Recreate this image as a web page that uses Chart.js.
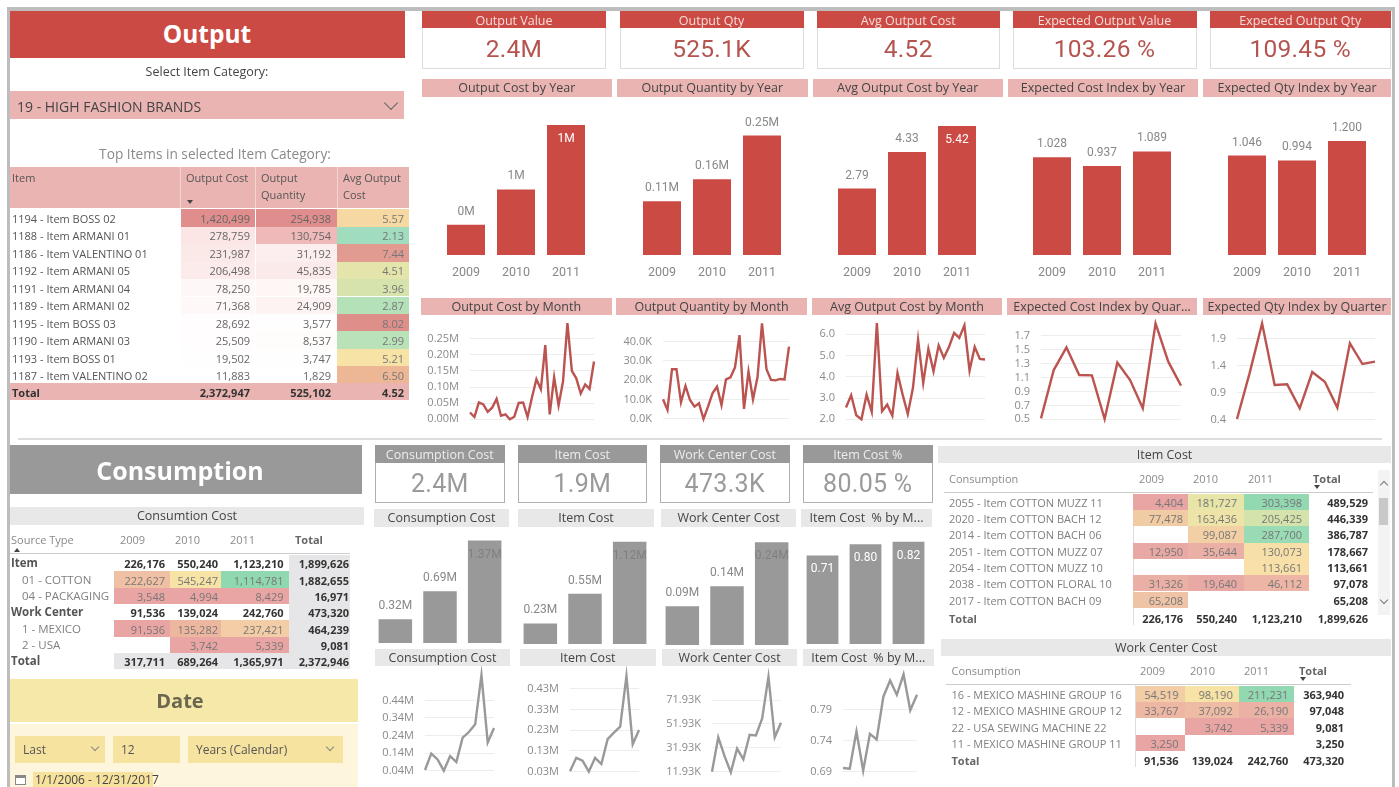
<!DOCTYPE html>
<html>
<head>
<meta charset="utf-8">
<title>Output and Consumption dashboard</title>
<script src="https://cdn.jsdelivr.net/npm/chart.js@4"></script>
<style>
html, body { margin: 0; padding: 0; background: #fff; overflow: hidden; }
#page { position: relative; width: 1399px; height: 787px; overflow: hidden; font-family: "Open Sans", sans-serif; filter: blur(0.4px); }
.box { position: absolute; box-sizing: border-box; }
.txt { position: absolute; white-space: pre; line-height: 1; }
canvas { position: absolute; }
</style>
</head>
<body>
<div id="page"></div>
<script>
const years = ['2009', '2010', '2011'];

// output bars
const outputCostYear = [317711, 689264, 1365971];
const outputCostYearLabels = ['0M', '1M', '1M'];
const outputQtyYear = [113000, 159000, 251000];
const outputQtyYearLabels = ['0.11M', '0.16M', '0.25M'];
const avgCostYear = [2.79, 4.33, 5.42];
const avgCostYearLabels = ['2.79', '4.33', '5.42'];
const expCostYear = [1.028, 0.937, 1.089];
const expCostYearLabels = ['1.028', '0.937', '1.089'];
const expQtyYear = [1.046, 0.994, 1.2];
const expQtyYearLabels = ['1.046', '0.994', '1.200'];

// output lines
const outputCostMonth = [.021, .007, .052, .046, .023, .036, .063, .011, .015, 0, .008, .051, .052, .007, .068, .124, .093, .230, .015, .130, .043, .117, .298, .150, .127, .080, .108, .094, .179];
const outputQtyMonth = [10.2, 4.7, 25.7, 25.7, 8.6, 17.1, 9.8, 6.4, 8.1, 0, 6.4, 13.3, 16.7, 7.2, 20.5, 21.6, 26.7, 43.4, 5.2, 24.5, 10.2, 21.6, 49.5, 25.7, 20.2, 20, 20.7, 20.5, 37.4];
const avgCostMonth = [2.56, 3.13, 2.19, 2.0, 3.16, 2.35, 6.53, 2.38, 2.69, 2.17, 4.18, 3.16, 2.25, 3.47, 5.75, 3.71, 5.31, 4.26, 5.48, 4.89, 5.40, 6.06, 5.83, 6.42, 4.29, 5.40, 4.84, 4.81];
const expCostQuarter = [.514, 1.207, 1.532, 1.136, 1.131, .505, 1.313, 1.064, .658, 1.877, 1.327, .983];
const expQtyQuarter = [.418, 1.257, 2.176, 1.043, 1.055, .614, 1.282, 1.104, .627, 1.808, 1.429, 1.472];

const outputCostTicks = [0, .05, .10, .15, .20, .25];
const outputCostTickLabels = ['0.00M', '0.05M', '0.10M', '0.15M', '0.20M', '0.25M'];
const outputQtyTicks = [0, 10, 20, 30, 40];
const outputQtyTickLabels = ['0.0K', '10.0K', '20.0K', '30.0K', '40.0K'];
const avgCostTicks = [2, 3, 4, 5, 6];
const avgCostTickLabels = ['2.0', '3.0', '4.0', '5.0', '6.0'];
const expCostTicks = [.5, .7, .9, 1.1, 1.3, 1.5, 1.7];
const expCostTickLabels = ['0.5', '0.7', '0.9', '1.1', '1.3', '1.5', '1.7'];
const expQtyTicks = [.4, .9, 1.4, 1.9];
const expQtyTickLabels = ['0.4', '0.9', '1.4', '1.9'];

// consumption bars
const consCostYear = [317711, 689264, 1365971];
const consCostYearLabels = ['0.32M', '0.69M', '1.37M'];
const itemCostYear = [226176, 550240, 1123210];
const itemCostYearLabels = ['0.23M', '0.55M', '1.12M'];
const wcCostYear = [91536, 139024, 242760];
const wcCostYearLabels = ['0.09M', '0.14M', '0.24M'];
const itemPctYear = [.71, .80, .82];
const itemPctYearLabels = ['0.71', '0.80', '0.82'];

// consumption lines
const consCostMonth = [.044, .137, .104, .04, .123, .089, .228, .26, .304, .584, .201, .283];
const itemCostMonth = [.032, .097, .083, .03, .097, .067, .187, .218, .247, .491, .162, .231];
const wcCostMonth = [11.9, 40.7, 25.0, 11.4, 31.2, 22.3, 42.9, 42.3, 56.6, 91.5, 40.7, 53.0];
const itemPctMonth = [.696, .695, .755, .692, .751, .742, .811, .837, .814, .847, .789, .814];

const consCostTicks = [.04, .14, .24, .34, .44];
const consCostTickLabels = ['0.04M', '0.14M', '0.24M', '0.34M', '0.44M'];
const itemCostTicks = [.03, .13, .23, .33, .43];
const itemCostTickLabels = ['0.03M', '0.13M', '0.23M', '0.33M', '0.43M'];
const wcCostTicks = [11.93, 31.93, 51.93, 71.93];
const wcCostTickLabels = ['11.93K', '31.93K', '51.93K', '71.93K'];
const itemPctTicks = [.69, .74, .79];
const itemPctTickLabels = ['0.69', '0.74', '0.79'];

// tables
const topItems = ['1194 - Item BOSS 02', '1188 - Item ARMANI 01', '1186 - Item VALENTINO 01', '1192 - Item ARMANI 05', '1191 - Item ARMANI 04', '1189 - Item ARMANI 02', '1195 - Item BOSS 03', '1190 - Item ARMANI 03', '1193 - Item BOSS 01', '1187 - Item VALENTINO 02'];
const topCost = ['1,420,499', '278,759', '231,987', '206,498', '78,250', '71,368', '28,692', '25,509', '19,502', '11,883'];
const topCostFill = ['#E08E8D', '#FBE6E5', '#FBE9E8', '#FBEBEA', '#FEF7F7', '#FEF8F8', '#FFFDFD', '#FFFDFD', '#FFFEFE', '#FFFFFF'];
const topQty = ['254,938', '130,754', '31,192', '45,835', '19,785', '24,909', '3,577', '8,537', '3,747', '1,829'];
const topQtyFill = ['#E08E8D', '#EEB9B8', '#FCEEEE', '#FBEAEA', '#FEF7F6', '#FDF3F2', '#FFFEFE', '#FFFCFC', '#FFFEFE', '#FFFFFF'];
const topAvg = ['5.57', '2.13', '7.44', '4.51', '3.96', '2.87', '8.02', '2.99', '5.21', '6.50'];
const topAvgFill = ['#F6D9A2', '#9FDDBE', '#E29B91', '#E4E5AA', '#D6E3AD', '#B4E1B8', '#DE8F89', '#B9E2B8', '#F8E3A6', '#EDB796'];
const topTotals = ['2,372,947', '525,102', '4.52'];

const sourceRows = ['Item', '01 - COTTON', '04 - PACKAGING', 'Work Center', '1 - MEXICO', '2 - USA', 'Total'];
const sourceBold = [true, false, false, true, false, false, true];
const source2009 = ['226,176', '222,627', '3,548', '91,536', '91,536', '', '317,711'];
const source2010 = ['550,240', '545,247', '4,994', '139,024', '135,282', '3,742', '689,264'];
const source2011 = ['1,123,210', '1,114,781', '8,429', '242,760', '237,421', '5,339', '1,365,971'];
const sourceTotal = ['1,899,626', '1,882,655', '16,971', '473,320', '464,239', '9,081', '2,372,946'];
const source2009Fill = ['', '#EFC0A4', '#E8A5A3', '', '#E8A5A3', '', '#E6E6E8'];
const source2010Fill = ['', '#F8E3A6', '#E8A5A3', '', '#EDB79F', '#E8A5A3', '#E6E6E8'];
const source2011Fill = ['', '#8FD8B0', '#E8A5A3', '', '#F3CDA5', '#E8A5A3', '#E6E6E8'];

const itemRows = ['2055 - Item COTTON MUZZ 11', '2020 - Item COTTON BACH 12', '2014 - Item COTTON BACH 06', '2051 - Item COTTON MUZZ 07', '2054 - Item COTTON MUZZ 10', '2038 - Item COTTON FLORAL 10', '2017 - Item COTTON BACH 09'];
const item2009 = ['4,404', '77,478', '', '12,950', '', '31,326', '65,208'];
const item2010 = ['181,727', '163,436', '99,087', '35,644', '', '19,640', ''];
const item2011 = ['303,398', '205,425', '287,700', '130,073', '113,661', '46,112', ''];
const itemTotal = ['489,529', '446,339', '386,787', '178,667', '113,661', '97,078', '65,208'];
const item2009Fill = ['#E8A5A3', '#F1CBA4', '', '#E8A9A5', '', '#EAAFA5', '#EFC3A5'];
const item2010Fill = ['#E7E5A8', '#EFE4A7', '#F3CFA6', '#EAAFA5', '', '#E8A9A5', ''];
const item2011Fill = ['#92D9B2', '#D4E2AB', '#99DBB4', '#F7E0A7', '#F8E0A8', '#ECB5A5', ''];
const itemFooter = ['226,176', '550,240', '1,123,210', '1,899,626'];

const wcRows = ['16 - MEXICO MASHINE GROUP 16', '12 - MEXICO MASHINE GROUP 12', '22 - USA SEWING MACHINE 22', '11 - MEXICO MASHINE GROUP 11'];
const wc2009 = ['54,519', '33,767', '', '3,250'];
const wc2010 = ['98,190', '37,092', '3,742', ''];
const wc2011 = ['211,231', '26,190', '5,339', ''];
const wcTotal = ['363,940', '97,048', '9,081', '3,250'];
const wc2009Fill = ['#F2CDA5', '#EDB7A4', '', '#E8A5A3'];
const wc2010Fill = ['#F8E3A6', '#EEBCA4', '#E8A5A3', ''];
const wc2011Fill = ['#92D9B2', '#EBB1A5', '#E8A5A3', ''];
const wcFooter = ['91,536', '139,024', '242,760', '473,320'];

const RED = '#CC4A44';
const RED_LINE = '#BB5450';
const PINK = '#E9B4B2';
const GREY = '#999999';
const GREY_BAND = '#E8E8E8';

const page = document.getElementById('page');

function box(x, y, w, h, fill, border) {
    const d = document.createElement('div');
    d.className = 'box';
    d.style.cssText = `left:${x}px;top:${y}px;width:${w}px;height:${h}px;` +
        (fill ? `background:${fill};` : '') + (border ? `border:${border};` : '');
    page.appendChild(d);
    return d;
}

// anchor: l, c or r at x, vertically centred on y
function text(str, x, y, size, color, anchor, weight, family) {
    const d = document.createElement('div');
    d.className = 'txt';
    const tx = anchor === 'c' ? '-50%' : anchor === 'r' ? '-100%' : '0';
    d.style.cssText = `left:${x}px;top:${y}px;font-size:${size}px;color:${color};` +
        `transform:translate(${tx},-50%);font-weight:${weight || 400};` +
        (family ? `font-family:${family};` : '');
    d.textContent = str;
    page.appendChild(d);
    return d;
}

function band(label, x0, x1, y0, y1, fill, color, size) {
    box(x0, y0, x1 - x0, y1 - y0, fill);
    text(label, (x0 + x1) / 2, (y0 + y1) / 2, size || 12.5, color || '#444', 'c');
}

function card(title, value, x0, x1, y0, y1, y2, head, border, valueColor, titleColor, valueSize) {
    box(x0, y1 - 1, x1 - x0, y2 - y1 + 1, '#fff', border);
    box(x0, y0, x1 - x0, y1 - y0, head);
    text(title, (x0 + x1) / 2, (y0 + y1) / 2 + 1, 12.5, titleColor, 'c');
    text(value, (x0 + x1) / 2, (y1 + y2) / 2, valueSize, valueColor, 'c', 400, 'Roboto');
    page.lastChild.style.letterSpacing = '0.3px';
}

function chevron(x, y, size, color, up) {
    const d = box(x - size / 2, y - size * 0.75, size, size, null);
    d.style.borderRight = `1px solid ${color}`;
    d.style.borderBottom = `1px solid ${color}`;
    d.style.transform = up ? 'rotate(225deg)' : 'rotate(45deg)';
}

function sortArrow(x, y, up) {
    const d = box(x - 3, y - 2, 0, 0, null);
    d.style.borderLeft = '3px solid transparent';
    d.style.borderRight = '3px solid transparent';
    d.style[up ? 'borderBottom' : 'borderTop'] = '4px solid #444';
}

// bars: custom data labels, the value sits inside once the bar is tall enough
const barLabels = {
    id: 'barLabels',
    afterDatasetsDraw(chart, args, opts) {
        const ctx = chart.ctx;
        const meta = chart.getDatasetMeta(0);
        ctx.save();
        ctx.textAlign = 'center';
        ctx.textBaseline = 'middle';
        ctx.font = opts.font;
        meta.data.forEach((bar, i) => {
            const inside = chart.data.datasets[0].data[i] >= opts.insideFrom;
            ctx.fillStyle = inside ? opts.insideColor : opts.color;
            ctx.fillText(opts.labels[i], bar.x, inside ? bar.y + 14 : bar.y - 13);
        });
        ctx.restore();
    }
};

function makeCanvas(x, y, w, h) {
    const c = document.createElement('canvas');
    c.style.left = Math.round(x) + 'px';
    c.style.top = Math.round(y) + 'px';
    c.style.width = Math.round(w) + 'px';
    c.style.height = Math.round(h) + 'px';
    c.width = Math.round(w);
    c.height = Math.round(h);
    page.appendChild(c);
    return c;
}

function barChart(x, y, w, h, values, labels, yMax, cfg) {
    new Chart(makeCanvas(x, y, w, h), {
        type: 'bar',
        data: {
            labels: years,
            datasets: [{
                data: values,
                backgroundColor: cfg.color,
                barPercentage: cfg.bar,
                categoryPercentage: 1
            }]
        },
        plugins: [barLabels],
        options: {
            responsive: false,
            animation: false,
            layout: { padding: 0 },
            plugins: {
                legend: { display: false },
                tooltip: { enabled: false },
                barLabels: {
                    labels: labels,
                    insideFrom: cfg.insideFrom,
                    insideColor: cfg.insideColor,
                    color: '#888',
                    font: cfg.font
                }
            },
            scales: {
                y: { display: false, min: 0, max: yMax },
                x: {
                    display: cfg.showYears,
                    grid: { display: false, drawTicks: false },
                    border: { display: false },
                    afterFit: s => { s.height = cfg.showYears ? 30 : 0; },
                    ticks: { color: '#888', padding: 10, font: { family: 'Roboto', size: 12.5 } }
                }
            }
        }
    });
}

function lineChart(plotLeft, plotRight, top, bottom, values, ticks, tickLabels, yMin, yMax, color) {
    const axisWidth = 52;
    // the first and last tick label reserve 6px above and below the plot, so the canvas is taller by that
    new Chart(makeCanvas(plotLeft - axisWidth, top - 6, plotRight - plotLeft + axisWidth + 3, bottom - top + 12), {
        type: 'line',
        data: {
            labels: values.map((v, i) => i),
            datasets: [{
                data: values,
                borderColor: color,
                borderWidth: 2.4,
                pointRadius: 0,
                tension: 0,
                clip: 4
            }]
        },
        options: {
            responsive: false,
            animation: false,
            layout: { padding: { top: 0, bottom: 0, left: 0, right: 3 } },
            plugins: { legend: { display: false }, tooltip: { enabled: false } },
            scales: {
                x: { display: false, offset: false },
                y: {
                    min: yMin,
                    max: yMax,
                    afterFit: s => { s.width = axisWidth; },
                    afterBuildTicks: s => { s.ticks = ticks.map(v => ({ value: v })); },
                    border: { display: false },
                    grid: { color: '#EDEDED', tickColor: 'transparent', tickLength: 11, lineWidth: 1 },
                    ticks: {
                        autoSkip: false,
                        padding: 0,
                        color: '#8A8A8A',
                        font: { family: 'Open Sans', size: 11, lineHeight: 12 / 11 },
                        callback: (v, i) => tickLabels[i]
                    }
                }
            }
        }
    });
}

// generic right aligned table body
function cell(label, right, left, y, h, fill, color, size, weight, family) {
    if (fill) box(left, y - h / 2, right.edge - left, h, fill);
    if (label) text(label, right.text, y, size, color, 'r', weight, family);
}

function drawFrame() {
    box(7, 7, 1386, 4, '#BDBDBD');
    box(7, 7, 3, 780, '#BDBDBD');
    box(1392, 7, 3, 780, '#BDBDBD');
    box(18, 438, 1364, 2, '#DDDDDD');
}

function drawOutputLeft() {
    box(10, 11, 395, 47, RED);
    text('Output', 207, 34, 24.5, '#fff', 'c', 700);
    text('Select Item Category:', 207, 72, 12.5, '#444', 'c');
    box(10, 91, 394, 28, PINK);
    text('19 - HIGH FASHION BRANDS', 17, 107, 14, '#444', 'l');
    chevron(391, 105, 10, '#666');
    text('Top Items in selected Item Category:', 215, 154, 13.7, '#8A8A8A', 'c');

    box(10, 167, 399, 41, PINK);
    box(180, 167, 1, 41, '#F2D4D3');
    box(255, 167, 1, 41, '#F2D4D3');
    box(337, 167, 1, 41, '#F2D4D3');
    text('Item', 12, 177, 11, '#555', 'l');
    text('Output Cost', 186, 177, 11, '#555', 'l');
    text('Output', 261, 177, 11, '#555', 'l');
    text('Quantity', 261, 194, 11, '#555', 'l');
    text('Avg Output', 343, 177, 11, '#555', 'l');
    text('Cost', 343, 194, 11, '#555', 'l');
    sortArrow(190, 202, false);

    const costCol = { edge: 255, text: 250 };
    const qtyCol = { edge: 337, text: 331 };
    const avgCol = { edge: 409, text: 404 };
    topItems.forEach((name, i) => {
        const y = 218 + i * 17.45;
        text(name, 12, y, 11, '#555', 'l');
        cell(topCost[i], costCol, 181, y, 17.4, topCostFill[i], '#666', 11);
        cell(topQty[i], qtyCol, 256, y, 17.4, topQtyFill[i], '#666', 11);
        cell(topAvg[i], avgCol, 337, y, 17.4, topAvgFill[i], '#777', 11);
    });
    box(10, 383, 399, 16.5, PINK);
    text('Total', 12, 392, 11, '#333', 'l', 700);
    text(topTotals[0], 250, 392, 11, '#333', 'r', 700);
    text(topTotals[1], 331, 392, 11, '#333', 'r', 700);
    text(topTotals[2], 404, 392, 11, '#333', 'r', 700);
}

function drawOutputCards() {
    const border = '1.5px solid #DCDCDC';
    const cardEdges = [[422, 606], [619.5, 803.5], [816.5, 1000], [1012.5, 1196.5], [1209.5, 1391]];
    const titles = ['Output Value', 'Output Qty', 'Avg Output Cost', 'Expected Output Value', 'Expected Output Qty'];
    const values = ['2.4M', '525.1K', '4.52', '103.26 %', '109.45 %'];
    cardEdges.forEach((e, i) => card(titles[i], values[i], e[0], e[1], 11, 28, 69, RED, border, '#B5544F', '#F6DDDB', 24.5));

    const yearTitles = ['Output Cost by Year', 'Output Quantity by Year', 'Avg Output Cost by Year', 'Expected Cost Index by Year', 'Expected Qty Index by Year'];
    const yearEdges = [[421.5, 612], [617, 807.5], [812.5, 1003], [1008, 1198], [1203, 1391]];
    yearEdges.forEach((e, i) => band(yearTitles[i], e[0], e[1], 79, 97, PINK));

    const monthTitles = ['Output Cost by Month', 'Output Quantity by Month', 'Avg Output Cost by Month', 'Expected Cost Index by Quar...', 'Expected Qty Index by Quarter'];
    const monthEdges = [[421, 611.5], [616, 807], [812, 1002], [1007, 1197], [1203, 1391]];
    monthEdges.forEach((e, i) => band(monthTitles[i], e[0], e[1], 298, 315, PINK));
}

function drawOutputCharts() {
    const cfg = { color: RED, bar: 0.76, insideColor: '#fff', showYears: true, font: '12px Roboto' };
    barChart(441, 100, 150, 184.5, outputCostYear, outputCostYearLabels, 1629000, { ...cfg, insideFrom: 1300000 });
    barChart(636.7, 100, 150, 184.5, outputQtyYear, outputQtyYearLabels, 325600, { ...cfg, insideFrom: 1e9 });
    barChart(831.7, 100, 150, 184.5, avgCostYear, avgCostYearLabels, 6.51, { ...cfg, insideFrom: 5 });
    barChart(1027.3, 100, 150, 184.5, expCostYear, expCostYearLabels, 1.63, { ...cfg, insideFrom: 1e9 });
    barChart(1222, 100, 150, 184.5, expQtyYear, expQtyYearLabels, 1.63, { ...cfg, insideFrom: 1e9 });

    lineChart(470, 594, 320, 424, outputCostMonth, outputCostTicks, outputCostTickLabels, -.0146, .3077, RED_LINE);
    lineChart(663, 789, 320, 424, outputQtyMonth, outputQtyTicks, outputQtyTickLabels, -2.59, 51.2, RED_LINE);
    lineChart(846, 985, 320, 424, avgCostMonth, avgCostTicks, avgCostTickLabels, 1.78, 6.67, RED_LINE);
    lineChart(1041, 1181, 320, 424, expCostQuarter, expCostTicks, expCostTickLabels, .433, 1.925, RED_LINE);
    lineChart(1237, 1375, 320, 424, expQtyQuarter, expQtyTicks, expQtyTickLabels, .326, 2.238, RED_LINE);
}

function drawConsumptionLeft() {
    box(10, 445, 352, 49, GREY);
    text('Consumption', 180, 470, 25, '#fff', 'c', 700);
    band('Consumtion Cost', 10, 364, 507, 525, GREY_BAND, '#444', 12.5);

    text('Source Type', 11, 539, 11, '#8A8A8A', 'l');
    text('2009', 120, 539, 11, '#8A8A8A', 'l');
    text('2010', 175, 539, 11, '#8A8A8A', 'l');
    text('2011', 230, 539, 11, '#8A8A8A', 'l');
    text('Total', 295, 539, 11, '#666', 'l', 700);
    sortArrow(17, 550, true);
    box(10, 553, 340, 1, '#CCCCCC');

    const cols = [
        { edge: 170, text: 165, left: 113.5, v: source2009, fill: source2009Fill },
        { edge: 221, text: 218, left: 170, v: source2010, fill: source2010Fill },
        { edge: 289, text: 283.5, left: 221, v: source2011, fill: source2011Fill }
    ];
    sourceRows.forEach((name, i) => {
        const y = 563.3 + i * 16.33;
        const bold = sourceBold[i];
        const indent = bold ? 11 : 22;
        text(name, indent, y, 11.5, bold ? '#555' : '#808080', 'l', bold ? 700 : 400);
        cols.forEach(c => {
            cell(c.v[i], c, c.left, y, 16.3, c.fill[i], bold ? '#333' : '#777', 11, bold ? 700 : 400);
        });
        box(289, y - 8.15, 61, 16.3, '#E6E6E8');
        text(sourceTotal[i], 349, y, 11, '#333', 'r', 700);
    });

    box(10, 679, 348, 43, '#F6E8A8');
    text('Date', 180, 701, 20, '#6B6650', 'c', 700);
    box(10, 724, 348, 63, '#FDF6DC');
    box(15, 736, 90, 27, '#F6E3A0');
    text('Last', 23, 750, 12, '#555', 'l');
    chevron(95, 748, 6, '#888');
    box(113, 736, 67, 27, '#F6E3A0');
    text('12', 121, 750, 12, '#555', 'l');
    box(188, 736, 155, 27, '#F6E3A0');
    text('Years (Calendar)', 196, 750, 12, '#555', 'l');
    chevron(330, 748, 6, '#888');
    const cal = box(15, 775, 11, 10, '#fff', '1px solid #888');
    cal.style.borderTopWidth = '3px';
    box(33, 772, 120, 15, '#F6E29C');
    text('1/1/2006 - 12/31/2017', 35, 780, 12, '#444', 'l');
}

function drawConsumptionCards() {
    const border = '1.5px solid #B0B0B0';
    const cardEdges = [[375, 504.5], [517.5, 647], [660, 789.5], [803, 932.5]];
    const titles = ['Consumption Cost', 'Item Cost', 'Work Center Cost', 'Item Cost %'];
    const values = ['2.4M', '1.9M', '473.3K', '80.05 %'];
    cardEdges.forEach((e, i) => card(titles[i], values[i], e[0], e[1], 445, 463, 503, GREY, border, '#9A9A9A', '#EDEDED', 25));

    const barTitles = ['Consumption Cost', 'Item Cost', 'Work Center Cost', 'Item Cost  % by M...'];
    const barEdges = [[374, 509], [518, 654], [661, 796], [801, 932]];
    barEdges.forEach((e, i) => band(barTitles[i], e[0], e[1], 509, 526.5, GREY_BAND, '#444', 12.5));
    const lineEdges = [[375, 510], [520, 655.5], [662, 797], [802.5, 934]];
    lineEdges.forEach((e, i) => band(barTitles[i], e[0], e[1], 649, 666, GREY_BAND, '#444', 12.5));
}

function drawConsumptionCharts() {
    const cfg = { color: '#999999', showYears: false, font: '12px Roboto' };
    barChart(372.8, 523, 133.5, 120.3, consCostYear, consCostYearLabels, 1600000, { ...cfg, bar: 0.75, insideFrom: 1300000, insideColor: '#808080' });
    barChart(517.9, 523, 133.5, 121, itemCostYear, itemCostYearLabels, 1328000, { ...cfg, bar: 0.75, insideFrom: 1000000, insideColor: '#808080' });
    barChart(660.1, 523, 133.5, 121.7, wcCostYear, wcCostYearLabels, 288500, { ...cfg, bar: 0.75, insideFrom: 200000, insideColor: '#808080' });
    barChart(801.4, 523, 129, 121, itemPctYear, itemPctYearLabels, .97, { ...cfg, bar: 0.74, insideFrom: 0, insideColor: '#fff' });

    lineChart(425, 494, 670, 778, consCostMonth, consCostTicks, consCostTickLabels, -.0015, .613, GREY);
    lineChart(570, 639, 670, 778, itemCostMonth, itemCostTicks, itemCostTickLabels, -.0004, .52, GREY);
    lineChart(712, 781, 670, 778, wcCostMonth, wcCostTicks, wcCostTickLabels, 6.65, 97.1, GREY);
    lineChart(843, 917, 670, 778, itemPctMonth, itemPctTicks, itemPctTickLabels, .680, .854, GREY);
}

function drawItemTable() {
    band('Item Cost', 938, 1391, 446, 463, GREY_BAND, '#444', 12.5);
    text('Consumption', 949, 478, 11, '#8A8A8A', 'l');
    text('2009', 1139, 478, 11, '#8A8A8A', 'l');
    text('2010', 1193, 478, 11, '#8A8A8A', 'l');
    text('2011', 1248, 478, 11, '#8A8A8A', 'l');
    text('Total', 1313, 478, 11, '#666', 'l', 700);
    sortArrow(1317, 487, false);
    box(944, 492, 429, 1, '#CCCCCC');
    box(1132.5, 492, 1, 133, '#DDDDDD');

    const cols = [
        { edge: 1188.3, text: 1183, left: 1133, v: item2009, fill: item2009Fill },
        { edge: 1243.7, text: 1237, left: 1188.3, v: item2010, fill: item2010Fill },
        { edge: 1308.7, text: 1302, left: 1243.7, v: item2011, fill: item2011Fill }
    ];
    itemRows.forEach((name, i) => {
        const y = 501.7 + i * 16.33;
        text(name, 949, y, 11, '#808080', 'l');
        cols.forEach(c => cell(c.v[i], c, c.left, y, 16.3, c.fill[i], '#777', 11));
        text(itemTotal[i], 1368, y, 11, '#333', 'r', 700);
    });
    const foot = [1183, 1237, 1302, 1368];
    text('Total', 949, 618.3, 11, '#666', 'l', 700);
    itemFooter.forEach((v, i) => text(v, foot[i], 618.3, 11, '#333', 'r', 700));

    box(1378, 470, 12, 145, '#F3F3F3');
    box(1379, 498, 9, 27, '#C8C8C8');
    chevron(1383.5, 486, 6, '#777', true);
    chevron(1383.5, 601, 6, '#777');
}

function drawWcTable() {
    band('Work Center Cost', 941, 1391, 639, 656, GREY_BAND, '#444', 12.5);
    text('Consumption', 951.5, 670, 11, '#8A8A8A', 'l');
    text('2009', 1140, 670, 11, '#8A8A8A', 'l');
    text('2010', 1190, 670, 11, '#8A8A8A', 'l');
    text('2011', 1244, 670, 11, '#8A8A8A', 'l');
    text('Total', 1299, 670, 11, '#666', 'l', 700);
    sortArrow(1303, 679, false);
    box(946, 684, 405, 1, '#CCCCCC');
    box(1135, 684, 1, 83, '#DDDDDD');

    const cols = [
        { edge: 1184.7, text: 1178.5, left: 1135.5, v: wc2009, fill: wc2009Fill },
        { edge: 1239.3, text: 1232.7, left: 1184.7, v: wc2010, fill: wc2010Fill },
        { edge: 1294.5, text: 1288.3, left: 1239.3, v: wc2011, fill: wc2011Fill }
    ];
    wcRows.forEach((name, i) => {
        const y = 693.7 + i * 16.4;
        text(name, 951.5, y, 11, '#808080', 'l');
        cols.forEach(c => cell(c.v[i], c, c.left, y, 16.3, c.fill[i], '#777', 11));
        text(wcTotal[i], 1344, y, 11, '#333', 'r', 700);
    });
    const foot = [1178.5, 1232.7, 1288.3, 1344];
    text('Total', 951.5, 759.7, 11, '#666', 'l', 700);
    wcFooter.forEach((v, i) => text(v, foot[i], 759.7, 11, '#333', 'r', 700));
}

drawOutputLeft();
drawOutputCards();
drawOutputCharts();
drawConsumptionLeft();
drawConsumptionCards();
drawConsumptionCharts();
drawItemTable();
drawWcTable();
drawFrame();
</script>
</body>
</html>
